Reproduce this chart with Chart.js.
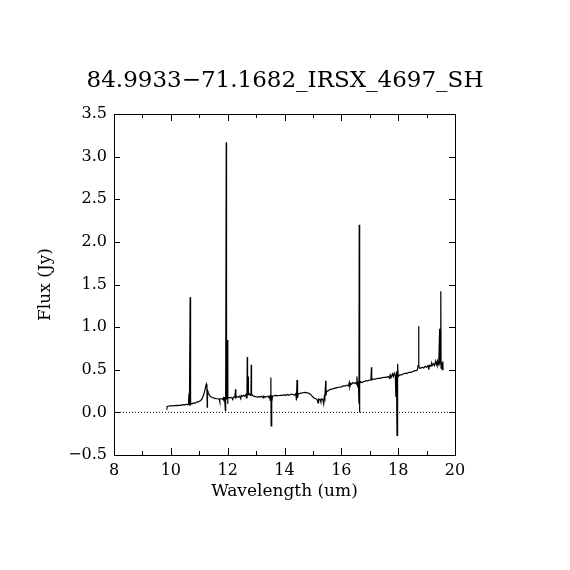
<!DOCTYPE html>
<html>
<head>
<meta charset="utf-8">
<script src="https://cdn.jsdelivr.net/npm/chart.js@4.4.1/dist/chart.umd.min.js"></script>
<style>
  html, body { margin: 0; padding: 0; background: #fff; }
  #wrap { width: 570px; height: 570px; }
</style>
</head>
<body>
<div id="wrap"><canvas id="myChart" width="570" height="570"></canvas></div>
<script>
"use strict";

const title = "84.9933\u221271.1682_IRSX_4697_SH";

// wavelength (um) and flux (Jy)
const wave = [
  9.86, 9.87, 9.90, 9.95, 10.00, 10.05, 10.10, 10.15, 10.20, 10.25, 10.30, 10.35, 10.40, 10.45, 10.50, 10.55,
  10.60, 10.62, 10.64, 10.65, 10.66, 10.68, 10.69, 10.70, 10.75, 10.80, 10.85, 10.90, 10.95, 11.00, 11.05, 11.10,
  11.15, 11.20, 11.23, 11.25, 11.27, 11.28, 11.29, 11.32, 11.36, 11.40, 11.45, 11.50, 11.55, 11.60, 11.65, 11.70,
  11.72, 11.73, 11.78, 11.82, 11.85, 11.87, 11.89, 11.92, 11.93, 11.95, 11.96, 11.98, 12.00, 12.01, 12.05, 12.10,
  12.15, 12.18, 12.20, 12.25, 12.28, 12.29, 12.33, 12.38, 12.42, 12.46, 12.48, 12.52, 12.56, 12.60, 12.64, 12.66,
  12.68, 12.69, 12.70, 12.72, 12.73, 12.76, 12.80, 12.82, 12.83, 12.84, 12.87, 12.92, 12.98, 13.05, 13.10, 13.15,
  13.20, 13.25, 13.27, 13.32, 13.38, 13.42, 13.46, 13.48, 13.50, 13.52, 13.53, 13.54, 13.56, 13.58, 13.62, 13.70,
  13.78, 13.85, 13.92, 14.00, 14.05, 14.10, 14.15, 14.20, 14.25, 14.30, 14.35, 14.40, 14.42, 14.44, 14.46, 14.48,
  14.52, 14.58, 14.65, 14.72, 14.80, 14.88, 14.95, 15.00, 15.05, 15.10, 15.15, 15.18, 15.20, 15.25, 15.28, 15.30,
  15.35, 15.38, 15.40, 15.42, 15.45, 15.46, 15.48, 15.52, 15.56, 15.62, 15.70, 15.78, 15.85, 15.92, 16.00, 16.08,
  16.15, 16.20, 16.25, 16.28, 16.30, 16.33, 16.36, 16.40, 16.45, 16.50, 16.53, 16.55, 16.57, 16.60, 16.62, 16.63,
  16.64, 16.65, 16.68, 16.72, 16.78, 16.85, 16.92, 17.00, 17.04, 17.06, 17.07, 17.08, 17.12, 17.20, 17.28, 17.35,
  17.42, 17.50, 17.58, 17.65, 17.70, 17.72, 17.75, 17.80, 17.83, 17.86, 17.90, 17.92, 17.94, 17.96, 17.98, 18.00,
  18.05, 18.12, 18.18, 18.25, 18.30, 18.38, 18.45, 18.52, 18.58, 18.64, 18.68, 18.70, 18.72, 18.73, 18.75, 18.80,
  18.85, 18.90, 18.95, 19.00, 19.05, 19.08, 19.10, 19.15, 19.18, 19.20, 19.25, 19.28, 19.32, 19.35, 19.38, 19.40,
  19.43, 19.46, 19.47, 19.49, 19.50, 19.51, 19.53, 19.55, 19.57, 19.58
];
const flux = [
  0.03, 0.07, 0.07, 0.075, 0.078, 0.075, 0.08, 0.08, 0.082, 0.08, 0.085, 0.083, 0.088, 0.09, 0.088, 0.095,
  0.09, 0.10, 0.22, 0.08, 0.10, 1.35, 0.08, 0.11, 0.10, 0.11, 0.105, 0.12, 0.12, 0.13, 0.14, 0.16,
  0.20, 0.26, 0.31, 0.33, 0.28, 0.06, 0.26, 0.23, 0.20, 0.185, 0.175, 0.17, 0.165, 0.16, 0.16, 0.155,
  0.12, 0.16, 0.16, 0.155, 0.17, 0.13, 0.18, 0.02, 0.18, 3.17, 0.15, 0.85, 0.10, 0.18, 0.17, 0.175,
  0.17, 0.15, 0.18, 0.18, 0.27, 0.17, 0.185, 0.18, 0.19, 0.16, 0.20, 0.19, 0.20, 0.19, 0.21, 0.17,
  0.25, 0.65, 0.20, 0.42, 0.21, 0.22, 0.20, 0.25, 0.56, 0.22, 0.20, 0.19, 0.185, 0.18, 0.185, 0.18,
  0.19, 0.17, 0.19, 0.18, 0.185, 0.19, 0.17, 0.20, 0.14, 0.41, -0.16, 0.20, 0.12, 0.19, 0.195, 0.20,
  0.195, 0.20, 0.20, 0.205, 0.20, 0.21, 0.20, 0.21, 0.215, 0.21, 0.20, 0.22, 0.14, 0.38, 0.17, 0.22,
  0.22, 0.225, 0.23, 0.235, 0.23, 0.22, 0.20, 0.18, 0.165, 0.16, 0.15, 0.11, 0.155, 0.15, 0.12, 0.16,
  0.15, 0.10, 0.18, 0.16, 0.37, 0.20, 0.25, 0.25, 0.26, 0.27, 0.275, 0.285, 0.29, 0.295, 0.30, 0.31,
  0.31, 0.32, 0.31, 0.35, 0.30, 0.34, 0.33, 0.35, 0.34, 0.35, 0.33, 0.42, 0.32, 0.35, 0.10, 2.20,
  0.00, 0.34, 0.36, 0.35, 0.36, 0.37, 0.37, 0.38, 0.38, 0.53, 0.40, 0.38, 0.39, 0.39, 0.40, 0.40,
  0.405, 0.41, 0.41, 0.42, 0.40, 0.44, 0.41, 0.45, 0.42, 0.46, 0.43, 0.18, 0.48, -0.27, 0.57, 0.42,
  0.44, 0.44, 0.45, 0.46, 0.455, 0.47, 0.47, 0.48, 0.49, 0.49, 0.50, 0.55, 1.01, 0.55, 0.52, 0.52,
  0.53, 0.52, 0.54, 0.53, 0.55, 0.50, 0.55, 0.54, 0.58, 0.55, 0.57, 0.55, 0.60, 0.56, 0.60, 0.55,
  0.58, 0.98, 0.58, 0.60, 1.42, 0.52, 0.58, 0.50, 0.60, 0.50
];

const xMin = 8, xMax = 20, xStep = 2, xMinorStep = 1;
const yMin = -0.5, yMax = 3.5, yStep = 0.5;

// frame with inward ticks on all four sides
const frameTicks = {
  id: "frameTicks",
  afterDraw(chart) {
    const { ctx, chartArea: a, scales } = chart;
    const sx = scales.x, sy = scales.y;
    ctx.save();
    ctx.strokeStyle = "#000";
    ctx.lineWidth = 1;
    ctx.strokeRect(a.left + 0.5, a.top + 0.5, a.right - a.left, a.bottom - a.top);
    ctx.beginPath();
    for (let v = xMin; v <= xMax + 1e-9; v += xMinorStep) {
      const px = Math.round(sx.getPixelForValue(v)) + 0.5;
      const len = (Math.abs((v - xMin) % xStep) < 1e-9) ? 7 : 4;
      ctx.moveTo(px, a.bottom);
      ctx.lineTo(px, a.bottom - len);
      ctx.moveTo(px, a.top);
      ctx.lineTo(px, a.top + len);
    }
    for (let v = yMin; v <= yMax + 1e-9; v += yStep) {
      const py = Math.round(sy.getPixelForValue(v)) + 0.5;
      ctx.moveTo(a.left, py);
      ctx.lineTo(a.left + 6, py);
      ctx.moveTo(a.right, py);
      ctx.lineTo(a.right - 6, py);
    }
    ctx.stroke();
    ctx.restore();
  }
};

const ctx = document.getElementById("myChart").getContext("2d");
const serif = "'DejaVu Serif', 'Liberation Serif', serif";

new Chart(ctx, {
  type: "line",
  data: {
    datasets: [
      {
        data: wave.map((w, i) => ({ x: w, y: flux[i] })),
        borderColor: "#000",
        borderWidth: 1.2,
        pointRadius: 0,
        tension: 0,
        fill: false
      },
      {
        data: [{ x: xMin, y: 0 }, { x: xMax, y: 0 }],
        borderColor: "#000",
        borderWidth: 1,
        borderDash: [1, 2],
        pointRadius: 0,
        fill: false
      }
    ]
  },
  options: {
    responsive: false,
    animation: false,
    layout: { padding: 0 },
    plugins: {
      legend: { display: false },
      tooltip: { enabled: false },
      title: {
        display: true,
        text: title,
        color: "#000",
        font: { family: serif, size: 23, weight: "normal", lineHeight: "25px" },
        padding: { top: 69, bottom: 20 }
      }
    },
    scales: {
      x: {
        type: "linear",
        min: xMin,
        max: xMax,
        grid: { display: false, drawTicks: false },
        border: { display: false },
        afterFit: (s) => { s.height = 115; },
        ticks: {
          stepSize: xStep,
          color: "#000",
          padding: 6,
          font: { family: serif, size: 16 }
        },
        title: {
          display: true,
          text: "Wavelength (um)",
          color: "#000",
          font: { family: serif, size: 17, lineHeight: 1 },
          padding: { top: 0, bottom: 70 }
        }
      },
      y: {
        type: "linear",
        min: yMin,
        max: yMax,
        grid: { display: false, drawTicks: false },
        border: { display: false },
        afterFit: (s) => { s.width = 114; },
        ticks: {
          stepSize: yStep,
          color: "#000",
          padding: 7,
          font: { family: serif, size: 16 },
          callback: (v) => v.toFixed(1).replace("-", "\u2212")
        },
        title: {
          display: true,
          text: "Flux (Jy)",
          color: "#000",
          font: { family: serif, size: 17, lineHeight: 1 },
          padding: { top: 37, bottom: 0 }
        }
      },
      // empty right-hand axis, only reserves the margin
      y2: {
        type: "linear",
        position: "right",
        min: yMin,
        max: yMax,
        grid: { display: false, drawTicks: false },
        border: { display: false },
        ticks: { display: false },
        afterFit: (s) => { s.width = 115; }
      }
    }
  },
  plugins: [frameTicks]
});
</script>
</body>
</html>
